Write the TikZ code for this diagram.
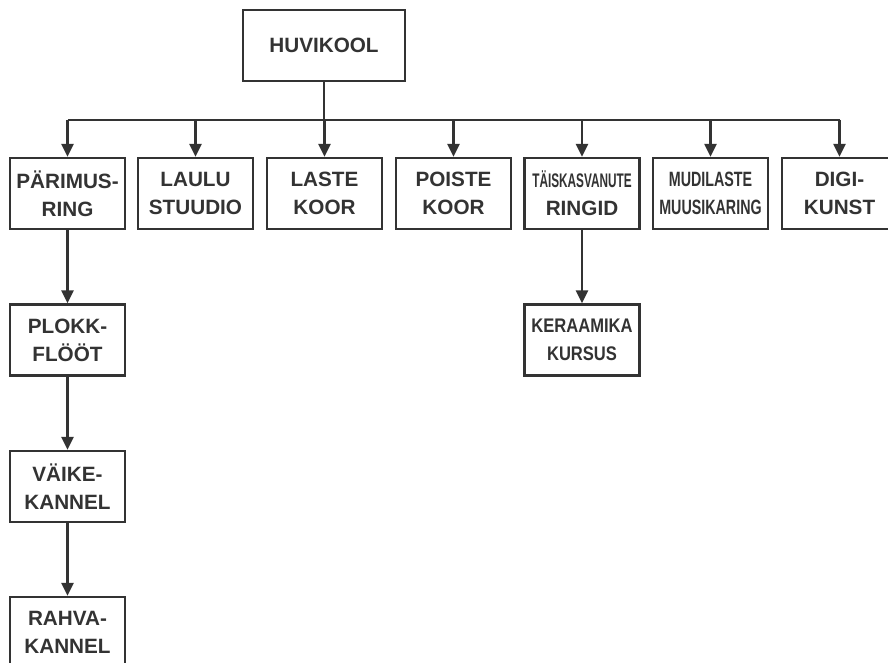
\documentclass[tikz,border=0pt]{standalone}
\usepackage{fontspec}
\setmainfont{Liberation Sans}
\usetikzlibrary{arrows.meta}
\definecolor{ink}{HTML}{333333}
\begin{document}
\begin{tikzpicture}[x=1pt,y=1pt,
  box/.style={draw=ink,line width=2.3pt,fill=white,minimum width=115pt,minimum height=71pt,
    inner sep=0pt,align=center,font=\fontsize{20.7}{28}\selectfont\bfseries,text=ink},
  link/.style={draw=ink,line width=2.3pt},
  conn/.style={link,-{Triangle[width=12pt,length=13pt]}}]
\useasboundingbox (0,0) rectangle (888,-663);
\begin{scope}
\clip (0,0) rectangle (888,-663);
\node[box,minimum width=162pt] (top) at (324,-45.5) {HUVIKOOL};
\node[box] (b1) at (67.5,-193.5) {PÄRIMUS-\\RING};
\node[box] (b2) at (195.5,-193.5) {LAULU\\STUUDIO};
\node[box] (b3) at (324.5,-193.5) {LASTE\\KOOR};
\node[box] (b4) at (453.5,-193.5) {POISTE\\KOOR};
\node[box] (b5) at (582,-193.5) {\scalebox{0.57}[0.95]{TÄISKASVANUTE}\\RINGID};
\node[box] (b6) at (710.5,-193.5) {\scalebox{0.69}[1]{MUDILASTE}\\\scalebox{0.69}[1]{MUUSIKARING}};
\node[box] (b7) at (839.5,-193.5) {DIGI-\\KUNST};
\node[box] (c1) at (67.5,-340) {PLOKK-\\FLÖÖT};
\node[box] (c2) at (67.5,-486.5) {VÄIKE-\\KANNEL};
\node[box] (c3) at (67.5,-632.5) {RAHVA-\\KANNEL};
\node[box] (k1) at (582,-340) {\scalebox{0.8}[0.95]{KERAAMIKA}\\\scalebox{0.8}[0.95]{KURSUS}};
\coordinate (bus) at (324,-120);
\draw[link] (top.south) -- (bus);
\draw[link] (b1.north |- bus) -- (b7.north |- bus);
\foreach \n in {b1,b2,b3,b4,b5,b6,b7}{
  \draw[conn] (\n.north |- bus) -- (\n.north);
}
\draw[conn] (b1.south) -- (c1.north);
\draw[conn] (c1.south) -- (c2.north);
\draw[conn] (c2.south) -- (c3.north);
\draw[conn] (b5.south) -- (k1.north);
\end{scope}
\end{tikzpicture}
\end{document}
